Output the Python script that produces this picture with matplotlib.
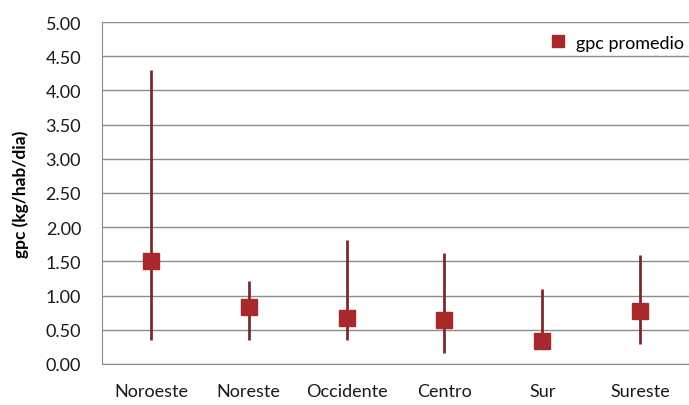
import matplotlib
matplotlib.use("Agg")
import matplotlib.pyplot as plt
from matplotlib.ticker import FixedLocator

categories = ["Noroeste", "Noreste", "Occidente", "Centro", "Sur", "Sureste"]
gpc_promedio = [1.50, 0.83, 0.67, 0.65, 0.33, 0.77]
gpc_max = [4.30, 1.22, 1.82, 1.63, 1.10, 1.60]
gpc_min = [0.35, 0.35, 0.35, 0.16, 0.25, 0.29]
yticks = [0.0, 0.5, 1.0, 1.5, 2.0, 2.5, 3.0, 3.5, 4.0, 4.5, 5.0]

plt.rcParams['font.family'] = ['Lato', 'DejaVu Sans']

fig = plt.figure(figsize=(6.89, 4.06), dpi=100)
ax = fig.add_axes([102/689, 1 - 365/406, 587/689, 342/406])

x = list(range(len(categories)))
ax.vlines(x, gpc_min, gpc_max, color="#7a2a2e", linewidth=2.0, zorder=3)
ax.plot(x, gpc_promedio, linestyle="none", marker="s", markersize=11,
        color="#a8282c", label="gpc promedio", zorder=4)

ax.set_xlim(-0.5, len(categories) - 0.5)
ax.set_ylim(0, 5)
ax.yaxis.set_major_locator(FixedLocator(yticks))
ax.set_yticklabels([f"{v:.2f}" for v in yticks], fontsize=13, color="#1a1a1a")
ax.set_xticks(x)
ax.set_xticklabels(categories, fontsize=13, color="#1a1a1a")
ax.tick_params(axis="both", length=0)
ax.tick_params(axis="y", pad=15)
ax.tick_params(axis="x", pad=14)
ax.grid(axis="y", color="#8c8c8c", linewidth=1.0)
ax.set_axisbelow(True)
for s in ["top", "right"]:
    ax.spines[s].set_visible(False)
for s in ["left", "bottom"]:
    ax.spines[s].set_color("#8c8c8c")
ax.set_ylabel("gpc (kg/hab/dia)", fontsize=12.5, fontweight="bold", labelpad=12)

ax.legend(loc="upper right", bbox_to_anchor=(1.01, 0.995), frameon=False,
          fontsize=13, handletextpad=0.0, markerscale=0.85, borderaxespad=0.2)

fig.savefig("out.png", dpi=100, facecolor="white")
